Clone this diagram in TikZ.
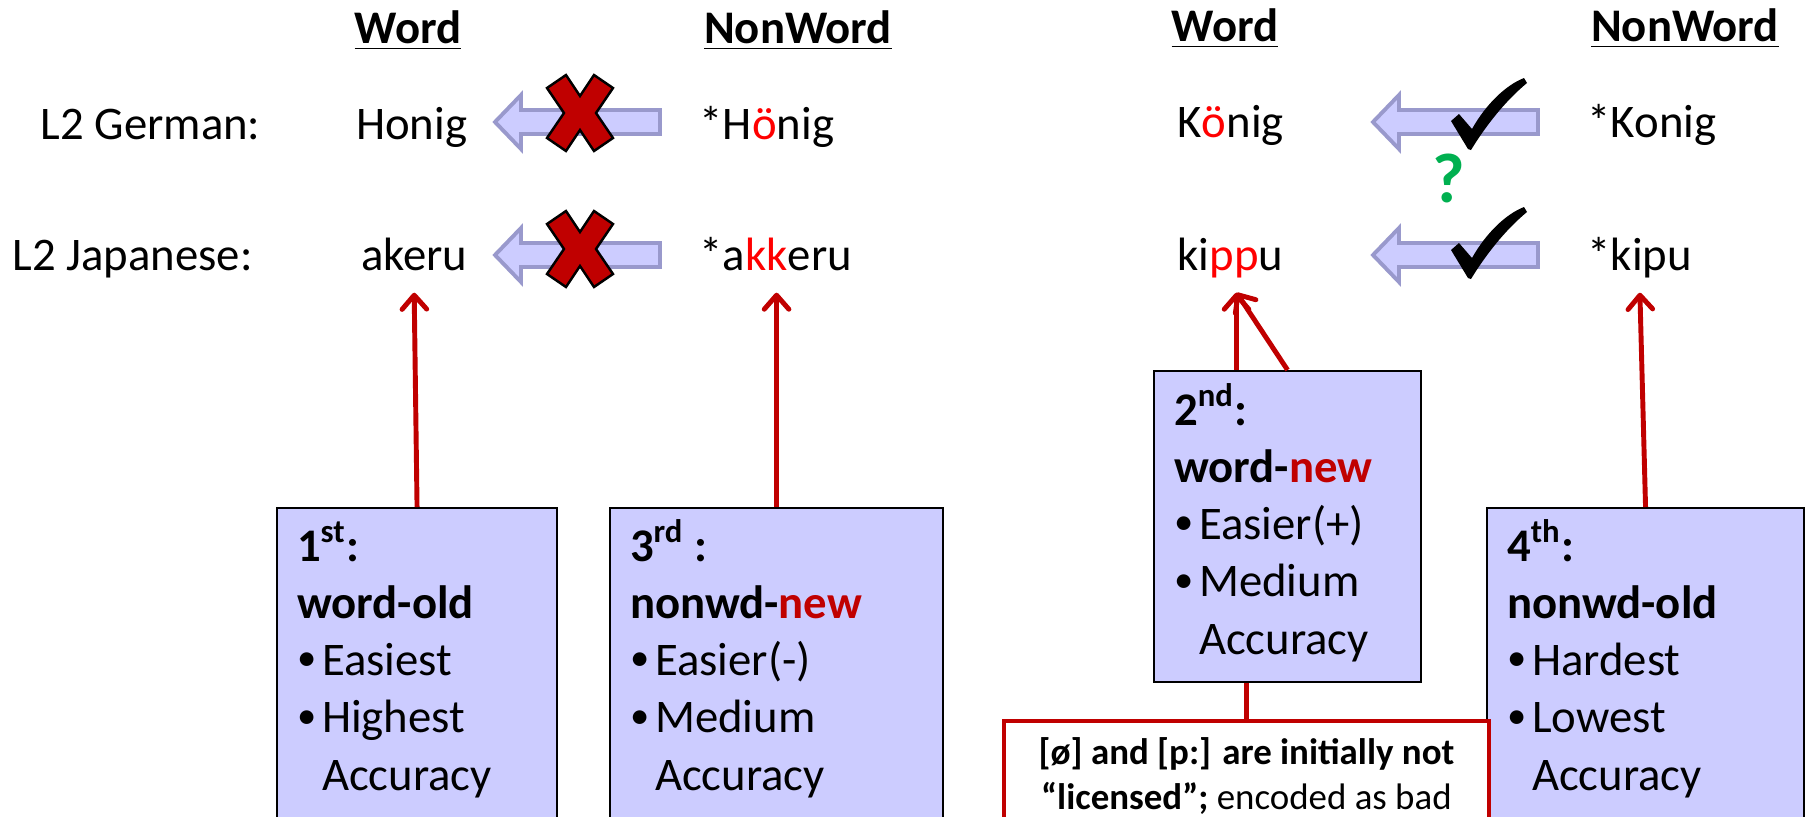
\documentclass[tikz,border=0pt]{standalone}
\usepackage{fontspec}
\setmainfont{Carlito}
\usepackage{xcolor}
\usepackage{tikz}
\usetikzlibrary{positioning, arrows.meta, calc}
\definecolor{boxfill}{RGB}{204, 204, 255}
\definecolor{arrowedge}{RGB}{153, 153, 204}
\definecolor{darkred}{RGB}{192, 0, 0}
\definecolor{brightred}{RGB}{255, 0, 0}
\definecolor{qgreen}{RGB}{0, 176, 80}

\newcommand{\bul}{\makebox[0.25cm][l]{\raisebox{0.1em}{\fontsize{11}{11}\selectfont\textbullet}}}
\newcommand{\nobul}{\hspace*{0.25cm}}
\newcommand{\blockarrow}[1]{\draw[blockarrow] (#1) -- ++(0.26,0.27) -- ++(0,-0.15) -- ++(1.39,0) -- ++(0,-0.24) -- ++(-1.39,0) -- ++(0,-0.15) -- cycle;}
\newcommand{\redcross}[1]{\begin{scope}[shift={(#1)}]
  \filldraw[cross] (-0.33,0.25) -- (-0.14,0.38) -- (0,0.17) -- (0.14,0.38) -- (0.33,0.25) -- (0.16,0) -- (0.33,-0.25) -- (0.14,-0.38) -- (0,-0.17) -- (-0.14,-0.38) -- (-0.33,-0.25) -- (-0.16,0) -- cycle;
\end{scope}}
\newcommand{\drawtick}[1]{\begin{scope}[shift={(#1)}]
  \fill[black] (0,0) -- (-0.17,0.28) -- (-0.09,0.35) -- (0.04,0.20) .. controls (0.18,0.45) and (0.38,0.64) .. (0.56,0.71) -- (0.59,0.66) .. controls (0.42,0.52) and (0.22,0.30) .. (0.03,-0.01) -- cycle;
\end{scope}}

\begin{document}
\begin{tikzpicture}[
        hdr/.style={font=\fontsize{13.3}{16}\selectfont\bfseries, anchor=base, inner sep=0pt},
        rowlabel/.style={font=\fontsize{13.3}{16}\selectfont, anchor=base west, inner sep=0pt},
        word/.style={font=\fontsize{13.3}{16}\selectfont, inner xsep=0pt, inner ysep=0.12cm, text depth=0.1cm},
        rankbox/.style={rectangle, draw=black, fill=boxfill, line width=0.6pt, anchor=north west, text width=#1, align=flush left, inner xsep=0.2cm, inner ysep=0pt, text height=0.53cm, font=\fontsize{13.3}{16.3}\selectfont},
        notebox/.style={rectangle, draw=darkred, fill=white, line width=1.1pt, anchor=north west, text width=4.65cm, align=flush center, inner xsep=0.1cm, inner ysep=0pt, text height=0.44cm, text depth=1.5cm, font=\fontsize{10.5}{12.8}\selectfont},
        blockarrow/.style={draw=arrowedge, fill=boxfill, line width=1.1pt},
        cross/.style={draw=black, fill=darkred, line width=0.7pt},
        link/.style={draw=darkred, line width=1.4pt, -{Straight Barb[length=4pt, width=7pt, round]}}
    ]

        \useasboundingbox (0,0) rectangle (18.06,-8.16);
        \clip (0,0) rectangle (18.06,-8.16);

        % column headers
        \node (wordL) [hdr] at (4.08,-0.43) {\underline{Word}};
        \node (nonwordL) [hdr] at (7.98,-0.43) {\underline{NonWord}};
        \node (wordR) [hdr] at (12.25,-0.41) {\underline{Word}};
        \node (nonwordR) [hdr] at (16.85,-0.41) {\underline{NonWord}};

        % rows
        \node (german) [rowlabel] at (0.40,-1.39) {L2 German:};
        \node (japanese) [rowlabel] at (0.12,-2.70) {L2 Japanese:};

        \node (honig) [word, anchor=base east] at (4.68,-1.39) {Honig};
        \node (akeru) [word, anchor=base east] at (4.68,-2.70) {akeru};
        \node (hoenig) [word, anchor=base west] at (6.99,-1.39) {*H\textcolor{brightred}{ö}nig};
        \node (akkeru) [word, anchor=base west] at (6.99,-2.70) {*a\textcolor{brightred}{kk}eru};
        \node (koenig) [word, anchor=base west] at (11.77,-1.37) {K\textcolor{brightred}{ö}nig};
        \node (kippu) [word, anchor=base west] at (11.77,-2.70) {ki\textcolor{brightred}{pp}u};
        \node (konig) [word, anchor=base west] at (15.87,-1.37) {*Konig};
        \node (kipu) [word, anchor=base west] at (15.87,-2.70) {*kipu};

        % block arrows with marks
        \blockarrow{4.95,-1.22}
        \blockarrow{4.95,-2.55}
        \blockarrow{13.73,-1.22}
        \blockarrow{13.73,-2.55}
        \redcross{5.80,-1.13}
        \redcross{5.80,-2.49}
        \drawtick{14.68,-1.49}
        \drawtick{14.68,-2.78}
        \node (query) [font=\fontsize{20}{24}\selectfont\bfseries, text=qgreen, inner sep=0pt] at (14.49,-1.78) {?};

        % ranking boxes
        \node (first) [rankbox=2.40cm, text depth=3cm] at (2.76,-5.07) {\textbf{1\textsuperscript{st}:}\\ \textbf{word-old}\\ \bul Easiest\\ \bul Highest\\ \nobul Accuracy};
        \node (third) [rankbox=2.93cm, text depth=3cm] at (6.09,-5.07) {\textbf{3\textsuperscript{rd} :}\\ \textbf{nonwd-\textcolor{darkred}{new}}\\ \bul Easier(-)\\ \bul Medium\\ \nobul Accuracy};
        \node (second) [rankbox=2.27cm, text height=0.54cm, text depth=2.57cm] at (11.53,-3.70) {\textbf{2\textsuperscript{nd}:}\\ \textbf{word-\textcolor{darkred}{new}}\\ \bul Easier(+)\\ \bul Medium\\ \nobul Accuracy};
        \node (fourth) [rankbox=2.77cm, text depth=3cm] at (14.86,-5.07) {\textbf{4\textsuperscript{th}:}\\ \textbf{nonwd-old}\\ \bul Hardest\\ \bul Lowest\\ \nobul Accuracy};
        \node (note) [notebox] at (10.02,-7.19) {\textbf{[ø] and [p:] are initially not}\\ \textbf{“licensed”;} encoded as bad};

        % connectors
        \coordinate (pp) at ($(kippu.south)+(0.06,0)$);
        \draw[link] (first.north) -- (akeru.south);
        \draw[link] (third.north) -- (akkeru.south -| third.north);
        \draw[link] (second.north -| pp) -- (pp);
        \draw[link] (second.north) -- (pp);
        \draw[link] (fourth.north) -- (kipu.south);
        \draw[darkred, line width=1.4pt] (note.north) -- (note.north |- second.south);
    \end{tikzpicture}
\end{document}
